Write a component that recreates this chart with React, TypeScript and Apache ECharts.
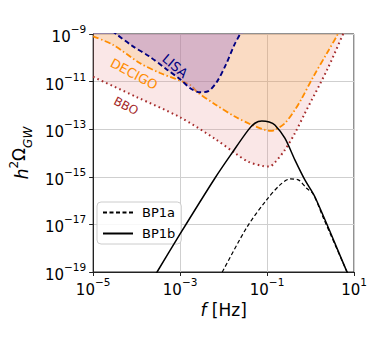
import React, { useEffect, useRef } from "react";
import * as echarts from "echarts";

// log10(f [Hz]) , log10(h^2 Omega_GW)
const lisa: [number, number][] = [
  [-5, -8.25], [-4.47, -9.0], [-4.1, -9.5], [-3.7, -9.95], [-3.3, -10.5], [-3.0, -10.9],
  [-2.75, -11.3], [-2.55, -11.45], [-2.35, -11.4], [-2.15, -11.0], [-1.95, -10.3],
  [-1.75, -9.45], [-1.62, -9.0], [-1.55, -8.7],
];
const decigo: [number, number][] = [
  [-5, -9.1], [-4.54, -9.46], [-3.92, -10.23], [-3.46, -10.64], [-2.77, -11.14], [-2.6, -11.45],
  [-2.2, -11.95], [-1.74, -12.47], [-1.35, -12.82], [-1.05, -13.03], [-0.93, -13.07],
  [-0.82, -13.03], [-0.59, -12.75], [-0.36, -12.19], [-0.22, -11.77], [0.06, -10.81],
  [0.38, -9.8], [0.63, -9.0], [0.7, -8.7],
];
const bbo: [number, number][] = [
  [-5, -10.8], [-4, -11.65], [-3, -12.5], [-2.2, -13.4], [-1.74, -14.0], [-1.43, -14.37],
  [-1.09, -14.55], [-0.95, -14.57], [-0.82, -14.4], [-0.59, -13.87], [-0.36, -13.17],
  [-0.13, -12.33], [0.38, -10.51], [0.75, -9.0], [0.8, -8.8],
];
const bp1a: [number, number][] = [
  [-2.1, -19.25], [-2.03, -19.0], [-1.46, -17.11], [-1.01, -15.97], [-0.7, -15.34],
  [-0.47, -15.09], [-0.28, -15.13], [-0.09, -15.48], [0.06, -15.72], [0.3, -16.75],
  [0.84, -19.0], [0.9, -19.25],
];
const bp1b: [number, number][] = [
  [-3.6, -19.2], [-3.53, -19.0], [-3.0, -17.4], [-2.2, -15.06], [-1.81, -14.01],
  [-1.43, -13.03], [-1.28, -12.75], [-1.12, -12.66], [-0.95, -12.7], [-0.82, -12.82],
  [-0.59, -13.38], [-0.36, -14.29], [-0.13, -15.13], [0.1, -15.84], [0.84, -19.0], [0.9, -19.25],
];

const xTicks = [-5, -3, -1, 1];
const yTicks = [-19, -17, -15, -13, -11, -9];

const FONT = "DejaVu Sans";

const fmtPow = (v: number) => {
  const s = v < 0 ? "\u2212" + Math.abs(v) : String(v);
  return "{b|10}{s|" + s + "}";
};

const richTick = {
  b: { fontSize: 15, fontFamily: FONT, color: "#000", lineHeight: 21, verticalAlign: "bottom" as const },
  s: { fontSize: 10.5, fontFamily: FONT, color: "#000", lineHeight: 12, verticalAlign: "top" as const },
};

export default function App() {
  const ref = useRef<HTMLDivElement>(null);
  useEffect(() => {
    document.body.style.margin = "0";
    const chart = echarts.init(ref.current!, undefined, { renderer: "svg" });
    const gridLeft = 93, gridTop = 34, gridW = 261, gridH = 238;
    chart.setOption({
      animation: false,
      backgroundColor: "#fff",
      textStyle: { fontFamily: FONT },
      grid: {
        left: gridLeft, top: gridTop, width: gridW, height: gridH,
        show: true, borderColor: "#222", borderWidth: 1, backgroundColor: "transparent",
      },
      xAxis: {
        type: "value", min: xTicks[0], max: xTicks[xTicks.length - 1], interval: 2,
        name: "{i|f} [Hz]", nameLocation: "middle", nameGap: 27,
        nameTextStyle: {
          fontSize: 17, fontFamily: FONT, color: "#000",
          rich: { i: { fontSize: 17, fontStyle: "italic", fontFamily: FONT, color: "#000" } },
        },
        axisLine: { show: true, onZero: false, lineStyle: { color: "#222", width: 1 } },
        axisTick: { show: true, inside: false, length: 4, lineStyle: { color: "#222" } },
        axisLabel: {
          margin: 4, formatter: (v: number) => (xTicks.includes(v) ? fmtPow(v) : ""), rich: richTick,
        },
        splitLine: { show: true, lineStyle: { color: "#cfcfcf", width: 1 } },
      },
      yAxis: {
        type: "value", min: yTicks[0], max: yTicks[yTicks.length - 1], interval: 2,
        name: "{i|h}{sp|2}\u03a9{sb|GW}", nameLocation: "middle", nameGap: 58, nameRotate: 90,
        nameTextStyle: {
          fontSize: 17, fontFamily: FONT, color: "#000",
          rich: {
            i: { fontSize: 17, fontStyle: "italic", fontFamily: FONT, color: "#000", lineHeight: 22, verticalAlign: "bottom" },
            sp: { fontSize: 12, fontFamily: FONT, color: "#000", lineHeight: 14, verticalAlign: "top" },
            sb: { fontSize: 12, fontStyle: "italic", fontFamily: FONT, color: "#000", lineHeight: 14, verticalAlign: "bottom", padding: [0, 0, -4, 0] },
          },
        },
        axisLine: { show: true, onZero: false, lineStyle: { color: "#222", width: 1 } },
        axisTick: { show: true, inside: false, length: 4, lineStyle: { color: "#222" } },
        axisLabel: {
          margin: 7, formatter: (v: number) => (yTicks.includes(v) ? fmtPow(v) : ""), rich: richTick,
        },
        splitLine: { show: true, lineStyle: { color: "#cfcfcf", width: 1 } },
      },
      legend: {
        data: ["BP1a", "BP1b"],
        orient: "vertical", left: 97, top: 202,
        itemWidth: 30, itemHeight: 14, itemGap: 8,
        padding: [4, 6, 4, 5],
        backgroundColor: "rgba(255,255,255,0.85)",
        borderColor: "#cccccc", borderWidth: 1, borderRadius: 4,
        itemStyle: { opacity: 0 },
        textStyle: { fontSize: 13, fontFamily: FONT, color: "#000", padding: [0, 0, 0, 4] },
      },
      series: [
        {
          name: "BBO", type: "line", data: bbo, smooth: 0.3, showSymbol: false, symbol: "none", clip: true,
          lineStyle: { color: "#a52a2a", width: 2, type: [1.6, 3.2] },
          areaStyle: { origin: "end", color: "rgba(230,140,140,0.3)" },
          z: 2,
        },
        {
          name: "DECIGO", type: "line", data: decigo, smooth: 0.3, showSymbol: false, symbol: "none", clip: true,
          lineStyle: { color: "#ff8c00", width: 1.8, type: [6, 2.5, 1.5, 2.5] },
          areaStyle: { origin: "end", color: "rgba(255,160,0,0.22)" },
          z: 3,
        },
        {
          name: "LISA", type: "line", data: lisa, smooth: 0.3, showSymbol: false, symbol: "none", clip: true,
          lineStyle: { color: "#000080", width: 1.9, type: [5, 3] },
          areaStyle: { origin: "end", color: "rgba(150,110,205,0.5)" },
          z: 4,
        },
        {
          name: "BP1a", type: "line", data: bp1a, smooth: 0.3, showSymbol: false, symbol: "none", clip: true,
          lineStyle: { color: "#000", width: 1.2, type: [4, 2.5] },
          itemStyle: { color: "#000" },
          z: 5,
        },
        {
          name: "BP1b", type: "line", data: bp1b, smooth: 0.3, showSymbol: false, symbol: "none", clip: true,
          lineStyle: { color: "#000", width: 1.5, type: "solid" },
          itemStyle: { color: "#000" },
          z: 6,
        },
      ],
      graphic: [
        {
          type: "text", x: 175, y: 66, rotation: (-40 * Math.PI) / 180, z: 10,
          style: { text: "LISA", fill: "#000080", fontSize: 13, fontFamily: FONT, align: "center", verticalAlign: "middle" },
        },
        {
          type: "text", x: 134, y: 74, rotation: (-28 * Math.PI) / 180, z: 10,
          style: { text: "DECIGO", fill: "#ff8c00", fontSize: 13, fontFamily: FONT, align: "center", verticalAlign: "middle" },
        },
        {
          type: "text", x: 126, y: 106, rotation: (-27 * Math.PI) / 180, z: 10,
          style: { text: "BBO", fill: "#a52a2a", fontSize: 12, fontFamily: FONT, align: "center", verticalAlign: "middle" },
        },
      ],
    });
    return () => chart.dispose();
  }, []);
  return <div ref={ref} style={{ width: 374, height: 340 }} />;
}
